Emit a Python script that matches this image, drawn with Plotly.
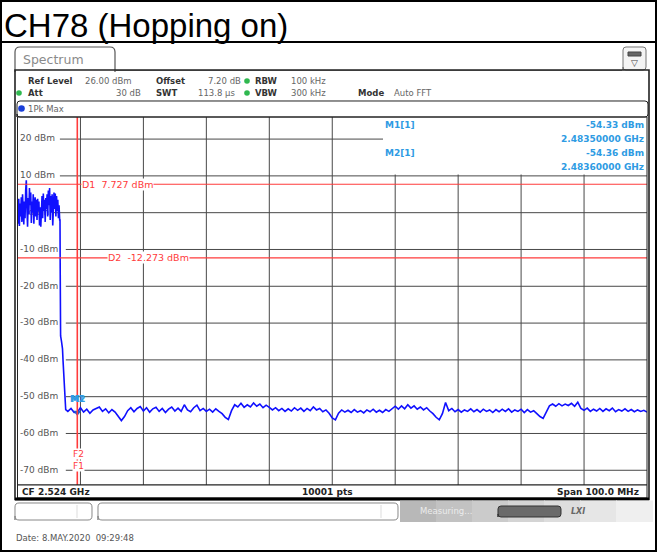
import plotly.graph_objects as go

# ---------------- data ----------------
title_text = "CH78 (Hopping on)"
freq_start_ghz = 2.474
freq_stop_ghz = 2.574
ref_level_dbm = 26.0
bottom_level_dbm = -74.0
y_ticks_dbm = [20, 10, 0, -10, -20, -30, -40, -50, -60, -70]
y_tick_labels = ["20 dBm", "10 dBm", "0 dBm", "-10 dBm", "-20 dBm",
                 "-30 dBm", "-40 dBm", "-50 dBm", "-60 dBm", "-70 dBm"]
x_grid_ghz = [2.484, 2.494, 2.504, 2.514, 2.524, 2.534, 2.544, 2.554, 2.564]

# in-band part of the trace (sweep points every 0.1 MHz from 2.4740 GHz)
inband_start_ghz = 2.4740
inband_step_ghz = 0.0001
inband_dbm = [1.5, -3.0, 3.8, -3.6, 2.5, -1.0, 4.2, -2.5, 5.0, 0.5,
              -3.2, 3.0, -1.5, 6.0, 8.8, 1.0, -3.8, 4.0, -0.5, 6.7,
              2.0, 5.5, -2.8, 3.0, 0.0, 5.0, -3.0, 2.5, 4.2, -1.0,
              3.5, -2.0, 3.8, 0.5, 3.0, -3.5, 1.5, -3.8, 2.5, 4.5,
              -1.5, 5.2, 0.5, 3.5, -2.5, 4.0, 1.0, 5.0, -1.0, 6.0,
              2.0, 6.7, -2.0, 4.5, 0.0, 5.0, -3.5, 3.0, 5.5, 1.0,
              5.2, -1.0, 4.5, 0.5, 3.5, -1.5, 2.0, -2.0]

# band edge roll-off
edge_ghz = [2.480751, 2.480783, 2.480815, 2.480847, 2.480990, 2.481149,
            2.481228, 2.481307, 2.481434, 2.481546, 2.481657]
edge_dbm = [-2.0, -15.0, -25.0, -33.5, -35.0, -37.0,
            -40.0, -42.0, -46.0, -50.0, -53.5]

# noise floor (sweep points every 0.5 MHz from 2.482 GHz)
floor_start_ghz = 2.482
floor_step_ghz = 0.0005
floor_dbm = [-54.0, -53.2, -54.3, -54.3, -53.0, -54.2, -53.4, -54.5, -53.6, -53.1,
             -52.8, -54.0, -53.3, -54.4, -53.5, -54.2, -55.3, -56.5, -55.4, -53.8,
             -53.0, -54.1, -53.2, -52.7, -53.9, -53.0, -54.2, -53.3, -52.9, -54.0,
             -53.2, -54.3, -53.4, -52.8, -53.9, -53.1, -54.0, -52.2, -53.6, -54.1,
             -53.0, -52.3, -53.8, -53.2, -54.0, -53.4, -54.2, -53.3, -54.0, -54.6,
             -55.6, -56.2, -53.8, -52.2, -52.8, -51.8, -52.9, -52.2, -52.8, -51.7,
             -52.6, -52.0, -53.0, -52.3, -52.9, -53.6, -53.0, -53.8, -53.2, -54.0,
             -53.3, -53.9, -53.0, -53.7, -53.1, -54.0, -53.2, -53.8, -52.8, -53.6,
             -53.2, -54.1, -53.6, -54.5, -55.8, -56.3, -54.5, -53.6, -54.2, -53.7,
             -54.3, -53.5, -54.2, -53.8, -54.4, -53.6, -54.1, -53.4, -54.2, -53.7,
             -54.3, -53.5, -54.0, -53.2, -52.6, -53.4, -52.5, -53.3, -52.2, -53.1,
             -52.5, -53.4, -52.8, -53.6, -53.0, -53.9, -54.6, -55.6, -56.3, -54.6,
             -51.6, -53.8, -53.2, -54.1, -53.5, -54.2, -53.6, -54.0, -53.3, -54.1,
             -53.5, -54.2, -53.4, -54.0, -53.6, -54.3, -53.5, -54.1, -53.4, -54.0,
             -53.3, -54.2, -53.6, -54.0, -53.4, -54.3, -53.5, -54.2, -53.8, -54.6,
             -55.4, -55.9, -54.2, -52.5, -52.0, -52.6, -51.9, -52.5, -52.0, -52.4,
             -51.8, -52.6, -51.5, -53.2, -53.7, -53.1, -54.0, -53.4, -53.9, -53.2,
             -54.0, -53.3, -53.8, -53.1, -54.1, -53.5, -53.9, -53.3, -54.0, -53.5,
             -54.1, -53.6, -54.0, -53.7, -54.2]

d1_dbm = 7.727
d2_dbm = -12.273
f1_ghz = 2.4835
m1_ghz, m1_dbm = 2.4835, -54.33
m2_ghz, m2_dbm = 2.4836, -54.36

# ---------------- geometry helpers ----------------
W, H = 657, 552
PL, PR, PT, PB = 17.5, 647.0, 117.0, 485.0


def px(x):
    return x / W


def py(y):
    return 1 - y / H


def dx(x):  # pixel -> x domain fraction
    return (x - PL) / (PR - PL)


def dy(y):  # pixel -> y domain fraction
    return (PB - y) / (PB - PT)


shapes = []
annotations = []


def rect(x0, y0, x1, y1, color="black", width=1, fill=None):
    shapes.append(dict(type="rect", xref="paper", yref="paper",
                       x0=px(x0), x1=px(x1), y0=py(y0), y1=py(y1),
                       line=dict(color=color, width=width),
                       fillcolor=fill if fill else "rgba(0,0,0,0)"))


def line(x0, y0, x1, y1, color="black", width=1):
    shapes.append(dict(type="line", xref="paper", yref="paper",
                       x0=px(x0), x1=px(x1), y0=py(y0), y1=py(y1),
                       line=dict(color=color, width=width)))


def rrect(x0, y0, x1, y1, r, color="black", width=1, fill=None, open_bottom=False):
    p = lambda x, y: f"{px(x):.5f},{py(y):.5f}"
    path = (f"M{p(x0, y1)} L{p(x0, y0 + r)} Q{p(x0, y0)} {p(x0 + r, y0)} "
            f"L{p(x1 - r, y0)} Q{p(x1, y0)} {p(x1, y0 + r)} L{p(x1, y1 - (0 if open_bottom else r))}")
    if not open_bottom:
        path += f" Q{p(x1, y1)} {p(x1 - r, y1)} L{p(x0 + r, y1)} Q{p(x0, y1)} {p(x0, y1 - r)} Z"
    shapes.append(dict(type="path", xref="paper", yref="paper", path=path,
                       line=dict(color=color, width=width),
                       fillcolor=fill if fill else "rgba(0,0,0,0)"))


def dot(x, y, r, color):
    shapes.append(dict(type="circle", xref="paper", yref="paper",
                       x0=px(x - r), x1=px(x + r), y0=py(y + r), y1=py(y - r),
                       line=dict(color=color, width=0), fillcolor=color))


def text(t, x, y, size=9, color="#333", xanchor="left", family="DejaVu Sans", bg=None):
    a = dict(text=t, x=px(x), y=py(y), xref="paper", yref="paper",
             xanchor=xanchor, yanchor="middle", showarrow=False,
             font=dict(size=size, color=color, family=family), borderpad=0)
    if bg:
        a["bgcolor"] = bg
    annotations.append(a)


# ---------------- traces ----------------
fig = go.Figure()

inband_ghz = [inband_start_ghz + inband_step_ghz * i for i in range(len(inband_dbm))]
floor_ghz = [floor_start_ghz + floor_step_ghz * i for i in range(len(floor_dbm))]
trace_x = inband_ghz + edge_ghz + floor_ghz
trace_y = inband_dbm + edge_dbm + floor_dbm

# y tick labels (as text inside the plot, under the trace)
fig.add_trace(go.Scatter(
    x=[freq_start_ghz + 0.0004] * len(y_ticks_dbm), y=y_ticks_dbm, text=y_tick_labels,
    mode="text", textposition="middle right", cliponaxis=False,
    textfont=dict(family="DejaVu Sans", size=9, color="#555"), hoverinfo="skip",
    showlegend=False))

fig.add_trace(go.Scatter(x=trace_x, y=trace_y, mode="lines",
                         line=dict(color="#1010ff", width=1.6), showlegend=False,
                         hoverinfo="skip"))

fig.add_trace(go.Scatter(x=[m1_ghz], y=[m1_dbm], mode="markers",
                         marker=dict(symbol="triangle-down", size=7, color="#1a5fd0"),
                         showlegend=False, hoverinfo="skip"))

# grid lines (drawn below the traces, starting after the level labels)
GRID = "#484848"
for lab, v in zip(y_tick_labels, y_ticks_dbm):
    x_end = 383 if v == 20 else PR
    shapes.append(dict(type="line", xref="x domain", yref="y", layer="below",
                       x0=dx(PL + 5.9 * len(lab) + 7), x1=dx(x_end), y0=v, y1=v,
                       line=dict(color=GRID, width=1)))
for g in x_grid_ghz:
    top = dy(PT) if g < 2.530 else dy(174.5)
    shapes.append(dict(type="line", xref="x", yref="y domain", layer="below",
                       x0=g, x1=g, y0=0, y1=top, line=dict(color=GRID, width=1)))

# red display / frequency lines
RED = "#ff3b3b"
shapes.append(dict(type="line", xref="x domain", yref="y", x0=0, x1=1, y0=d1_dbm, y1=d1_dbm,
                   line=dict(color=RED, width=1.2)))
shapes.append(dict(type="line", xref="x domain", yref="y", x0=0, x1=1, y0=d2_dbm, y1=d2_dbm,
                   line=dict(color=RED, width=1.2)))
shapes.append(dict(type="line", xref="x", yref="y domain", x0=f1_ghz, x1=f1_ghz, y0=0, y1=1,
                   line=dict(color=RED, width=1.6)))

# ---------------- frame / header ----------------
rect(1, 1, 656, 551, color="black", width=2)
line(0, 42, 657, 42, color="black", width=2)
text(title_text, 3, 26, size=33, color="black", family="Liberation Sans")

# Spectrum tab + header
rrect(15, 47, 115, 72, 5, color="#555", width=1.2, open_bottom=True)
line(115, 70.5, 622, 70.5, color="#888", width=1)
text("Spectrum", 22, 59, size=12.5, color="#8a8a8a")
rrect(623, 47, 646, 70, 3, color="#777", width=1, fill="#f4f4f4")
rect(628, 52, 641, 56, color="#444", width=1, fill="#666")
text("▽", 634.5, 63, size=9, color="#444", xanchor="center")

text("<b>Ref Level</b>", 27, 81, size=8.5, color="#333")
text("26.00 dBm", 84, 81, size=8.5, color="#666")
text("<b>Offset</b>", 155, 81, size=8.5, color="#333")
text("7.20 dB", 207, 81, size=8.5, color="#666")
dot(247, 81, 2.8, "#2fb84f")
text("<b>RBW</b>", 254, 81, size=8.5, color="#333")
text("100 kHz", 290, 81, size=8.5, color="#666")

dot(19, 93, 2.8, "#2fb84f")
text("<b>Att</b>", 27, 93, size=8.5, color="#333")
text("30 dB", 115, 93, size=8.5, color="#666")
text("<b>SWT</b>", 155, 93, size=8.5, color="#333")
text("113.8 µs", 197, 93, size=8.5, color="#666")
dot(247, 93, 2.8, "#2fb84f")
text("<b>VBW</b>", 254, 93, size=8.5, color="#333")
text("300 kHz", 290, 93, size=8.5, color="#666")
text("<b>Mode</b>", 357, 93, size=8.5, color="#333")
text("Auto FFT", 393, 93, size=8.5, color="#666")

# panel border, trace-info bar
rect(15, 70, 649, 499.5, color="#222", width=1.6)
rrect(17, 101, 648, 117, 3, color="#222", width=1)
dot(21.5, 108.5, 3.3, "#1a3fd8")
text("1Pk Max", 27, 108.5, size=8.5, color="#666")
rect(PL, PT, PR, PB, color="#222", width=1)

# marker info
BLUE_T = "#2e9be3"
text("<b>M1[1]</b>", 384, 125, size=9, color=BLUE_T)
text("<b>-54.33 dBm</b>", 645, 125, size=9, color=BLUE_T, xanchor="right")
text("<b>2.48350000 GHz</b>", 645, 139, size=9, color=BLUE_T, xanchor="right")
text("<b>M2[1]</b>", 384, 153, size=9, color=BLUE_T)
text("<b>-54.36 dBm</b>", 645, 153, size=9, color=BLUE_T, xanchor="right")
text("<b>2.48360000 GHz</b>", 645, 167, size=9, color=BLUE_T, xanchor="right")

# line labels
text(f"D1  {d1_dbm:.3f} dBm", 81, 184.5, size=9.5, color=RED, bg="white")
text(f"D2  {d2_dbm:.3f} dBm", 107, 257.5, size=9.5, color=RED, bg="white")
text("F2", 78.5, 454, size=9, color=RED, xanchor="center", bg="white")
text("F1", 78.5, 466, size=9, color=RED, xanchor="center", bg="white")
text("<b>M1</b>", 77, 399, size=8.5, color=BLUE_T, xanchor="center")
text("<b>M2</b>", 78, 399, size=8.5, color=BLUE_T, xanchor="center")

# bottom info bar
rect(PL, PB, PR, 498, color="#222", width=1, fill="white")
line(15, 499, 649, 499, color="black", width=3)
text("<b>CF 2.524 GHz</b>", 21, 492, size=9, color="#222")
text("<b>10001 pts</b>", 327, 492, size=9, color="#222", xanchor="center")
text("<b>Span 100.0 MHz</b>", 640, 492, size=9, color="#222", xanchor="right")

# status bar
for i, g in enumerate(["#b8b8b8", "#c2c2c2", "#cbcbcb", "#d4d4d4", "#dddddd", "#e6e6e6", "#efefef"]):
    rect(400 + i * 36, 500.5, 400 + (i + 1) * 36 + 1, 522, color=g, width=0, fill=g)
rrect(15, 503, 92, 520, 4, color="#888", width=1, fill="white")
line(77, 505, 77, 518, color="#ddd", width=1)
rrect(98, 503, 398, 520, 4, color="#888", width=1, fill="white")
line(381, 505, 381, 518, color="#ddd", width=1)
text("Measuring...", 419, 511, size=8.5, color="#ececec")
rrect(498, 506, 561, 517, 3, color="#333", width=1, fill="#6a6a6a")
text("<i><b>LXI</b></i>", 570, 511, size=8, color="#666")

text("Date: 8.MAY.2020  09:29:48", 15, 538, size=8.5, color="#555", family="DejaVu Sans")

# ---------------- layout ----------------
fig.update_layout(
    width=W, height=H, margin=dict(l=0, r=0, t=0, b=0),
    paper_bgcolor="white", plot_bgcolor="white", showlegend=False,
    xaxis=dict(domain=[px(PL), px(PR)], range=[freq_start_ghz, freq_stop_ghz],
               showticklabels=False, ticks="", showgrid=False, zeroline=False,
               showline=False, fixedrange=True),
    yaxis=dict(domain=[py(PB), py(PT)], range=[bottom_level_dbm, ref_level_dbm],
               showticklabels=False, ticks="", showgrid=False, zeroline=False,
               showline=False, fixedrange=True),
    shapes=shapes, annotations=annotations, hovermode=False,
)

fig.write_html("out.html", config={"displayModeBar": False},
               post_script="document.body.style.margin='0';")
